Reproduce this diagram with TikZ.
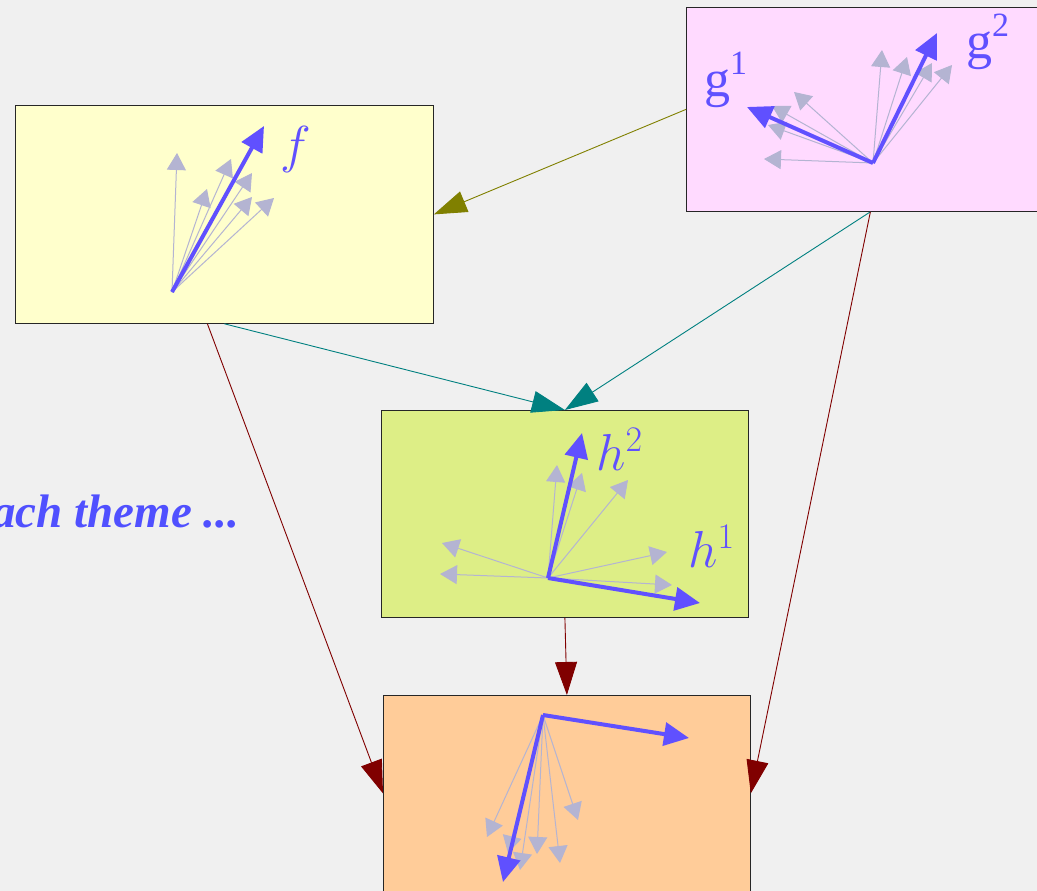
\RequirePackage{fix-cm}
\documentclass[tikz,border=0pt]{standalone}
\usepackage{fontspec}
\setmainfont{Liberation Serif}
\DeclareMathSizes{52}{52}{36}{26}
\usetikzlibrary{arrows.meta}
\definecolor{bgc}{RGB}{240,240,240}
\definecolor{yel}{RGB}{255,255,204}
\definecolor{pnk}{RGB}{255,218,255}
\definecolor{grn}{RGB}{221,238,134}
\definecolor{org}{RGB}{255,204,153}
\definecolor{oliv}{RGB}{128,128,0}
\definecolor{tea}{RGB}{0,128,128}
\definecolor{mar}{RGB}{128,0,0}
\definecolor{vblue}{RGB}{96,80,255}
\definecolor{lightv}{RGB}{180,180,210}
\definecolor{txtblue}{RGB}{80,80,255}
\newcommand{\gsup}[1]{g\raisebox{22pt}{\fontsize{34}{40}\selectfont #1}}
\begin{document}
\begin{tikzpicture}[x=1pt,y=-1pt,
  box/.style={draw=black!85, line width=0.8pt, inner sep=0pt, anchor=north west},
  conn/.style={line width=0.9pt, -{Triangle[length=33pt,width=22pt]}},
  thinv/.style={draw=lightv, line width=1pt, -{Triangle[length=17pt,width=19pt]}},
  thickv/.style={draw=vblue, line width=4pt, -{Triangle[length=25pt,width=23pt]}},
  lab/.style={text=vblue, anchor=base west, inner sep=0pt, font=\fontsize{52}{60}\selectfont}]
\useasboundingbox (0,0) rectangle (1037,891);
\clip (0,0) rectangle (1037,891);
\fill[bgc] (0,0) rectangle (1037,891);

% boxes
\node[box, fill=yel, minimum width=418pt, minimum height=218pt] (yellow) at (15,105) {};
\node[box, fill=pnk, minimum width=368pt, minimum height=204pt] (pink) at (686,7) {};
\node[box, fill=grn, minimum width=367pt, minimum height=207pt] (green) at (381,410) {};
\node[box, fill=org, minimum width=367pt, minimum height=196pt] (orange) at (383,695) {};

% connectors
\draw[conn, oliv] (pink.west) -- (yellow.east);
\draw[conn, tea] (yellow.south) -- (green.north);
\draw[conn, tea] (pink.south) -- (green.north);
\draw[conn, mar] ([xshift=-17pt]yellow.south) -- (orange.west);
\draw[conn, mar] (pink.south) -- (orange.east);
\draw[conn, mar] (green.south) -- (orange.north);

% yellow fan
\coordinate (oy) at (172,292);
\foreach \p in {(177,153),(231,159),(207,189),(252,173),(252,197),(274,198)}
  \draw[thinv] (oy) -- \p;
\coordinate (fy) at (264,126);
\draw[thickv] (oy) -- (fy);
\node[lab] (lf) at (280,162) {$f$};

% pink fan
\coordinate (op) at (873,163);
\foreach \p in {(764,159),(768,125),(772,106),(794,92),(882,50),(907,57),(932,63),(952,65)}
  \draw[thinv] (op) -- \p;
\coordinate (g1) at (747,107);
\coordinate (g2) at (937,33);
\draw[thickv] (op) -- (g1);
\draw[thickv] (op) -- (g2);
\node[lab] (lg1) at (704,97) {\gsup{1}};
\node[lab] (lg2) at (966,59) {\gsup{2}};

% green fan
\coordinate (og) at (548,578);
\foreach \p in {(442,543),(440,574),(557,465),(582,473),(628,480),(667,552),(672,585)}
  \draw[thinv] (og) -- \p;
\coordinate (h2) at (582,433);
\coordinate (h1) at (700,603);
\draw[thickv] (og) -- (h2);
\draw[thickv] (og) -- (h1);
\node[lab] (lh2) at (596,470) {$h^2$};
\node[lab] (lh1) at (688,567) {$h^1$};

% orange fan
\coordinate (oo) at (543,715);
\foreach \p in {(487,837),(508,853),(520,870),(537,854),(560,863),(578,820)}
  \draw[thinv] (oo) -- \p;
\coordinate (or1) at (689,738);
\coordinate (or2) at (503,882);
\draw[thickv] (oo) -- (or1);
\draw[thickv] (oo) -- (or2);

% text
\node[anchor=base west, inner sep=0pt, text=txtblue,
      font=\fontsize{47}{56}\selectfont\bfseries\itshape] (theme) at (-8,527) {ach theme ...};
\end{tikzpicture}
\end{document}
